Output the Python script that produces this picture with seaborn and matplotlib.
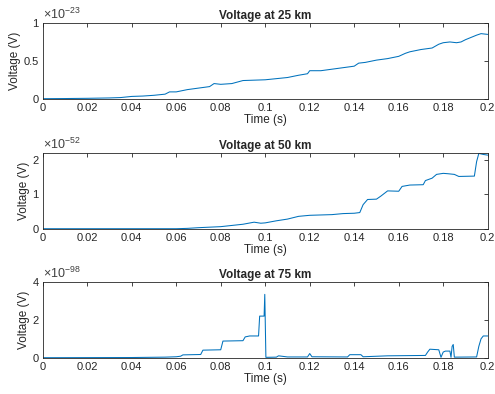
import numpy as np
import pandas as pd
import matplotlib
matplotlib.use("Agg")
import matplotlib.pyplot as plt
import seaborn as sns
from matplotlib.ticker import FuncFormatter

# ---- data (voltage in units of 10^exp V) ----
titles = ["Voltage at 25 km", "Voltage at 50 km", "Voltage at 75 km"]
exponents = [-23, -52, -98]
ylims = [1.0, 2.2, 4.0]
yticks = [[0, 0.5, 1], [0, 1, 2], [0, 2, 4]]
xticks = [0, 0.02, 0.04, 0.06, 0.08, 0.1, 0.12, 0.14, 0.16, 0.18, 0.2]

t1 = [0, 0.01, 0.02, 0.03, 0.035, 0.04, 0.045, 0.05, 0.055, 0.057, 0.06, 0.065, 0.07,
      0.075, 0.077, 0.08, 0.085, 0.09, 0.095, 0.1, 0.105, 0.11, 0.115, 0.119, 0.12,
      0.125, 0.13, 0.135, 0.14, 0.142, 0.145, 0.15, 0.155, 0.16, 0.163, 0.165, 0.17,
      0.175, 0.178, 0.18, 0.183, 0.186, 0.188, 0.19, 0.195, 0.197, 0.2]
v1 = [0, 0.002, 0.005, 0.01, 0.015, 0.03, 0.035, 0.045, 0.06, 0.09, 0.09, 0.12, 0.14,
      0.16, 0.2, 0.19, 0.2, 0.24, 0.245, 0.25, 0.265, 0.28, 0.31, 0.33, 0.37,
      0.37, 0.39, 0.41, 0.43, 0.47, 0.48, 0.51, 0.53, 0.56, 0.6, 0.62, 0.65,
      0.67, 0.72, 0.74, 0.75, 0.74, 0.75, 0.78, 0.84, 0.86, 0.85]

t2 = [0, 0.06, 0.065, 0.07, 0.08, 0.09, 0.095, 0.098, 0.1, 0.105, 0.11, 0.115, 0.12,
      0.13, 0.135, 0.14, 0.1425, 0.144, 0.146, 0.15, 0.152, 0.155, 0.16, 0.1615,
      0.165, 0.171, 0.172, 0.175, 0.177, 0.18, 0.182, 0.185, 0.187, 0.194, 0.195,
      0.196, 0.198, 0.2]
v2 = [0, 0, 0.01, 0.03, 0.06, 0.13, 0.19, 0.16, 0.17, 0.23, 0.28, 0.36, 0.39,
      0.41, 0.44, 0.45, 0.47, 0.7, 0.85, 0.86, 0.95, 1.1, 1.09, 1.23,
      1.27, 1.28, 1.4, 1.47, 1.58, 1.61, 1.6, 1.58, 1.52, 1.53, 1.95,
      2.19, 2.16, 2.14]

t3 = [0, 0.04, 0.055, 0.06, 0.062, 0.063, 0.071, 0.072, 0.08, 0.081, 0.09, 0.091,
      0.093, 0.097, 0.0975, 0.0995, 0.0998, 0.1003, 0.105, 0.106, 0.11, 0.119, 0.12,
      0.121, 0.137, 0.138, 0.143, 0.144, 0.155, 0.172, 0.173, 0.174, 0.178, 0.179,
      0.18, 0.181, 0.183, 0.1835, 0.184, 0.1845, 0.185, 0.195, 0.196, 0.197, 0.198, 0.2]
v3 = [0, 0.01, 0.03, 0.05, 0.08, 0.15, 0.17, 0.4, 0.42, 0.88, 0.9, 1.1,
      1.15, 1.15, 2.2, 2.2, 3.35, 0.02, 0.03, 0.1, 0.04, 0.04, 0.22,
      0.05, 0.04, 0.16, 0.16, 0.05, 0.1, 0.12, 0.3, 0.45, 0.42, 0.02,
      0.3, 0.35, 0.35, 0.02, 0.6, 0.7, 0.03, 0.04, 0.6, 1.0, 1.15, 1.15]

series = [(t1, v1), (t2, v2), (t3, v3)]

# ---- style ----
sns.set_theme(style="white")
plt.rcParams.update({
    "font.family": ["Liberation Sans", "DejaVu Sans"],
    "axes.edgecolor": "#262626",
    "axes.linewidth": 0.6,
    "xtick.color": "#262626",
    "ytick.color": "#262626",
    "xtick.direction": "in",
    "ytick.direction": "in",
    "xtick.top": True,
    "ytick.right": True,
    "xtick.major.size": 3,
    "ytick.major.size": 3,
    "xtick.major.width": 0.6,
    "ytick.major.width": 0.6,
    "xtick.labelsize": 8,
    "ytick.labelsize": 8,
    "axes.labelsize": 8.5,
    "axes.titlesize": 8.5,
    "text.color": "#262626",
    "axes.labelcolor": "#262626",
    "mathtext.fontset": "custom",
    "mathtext.rm": "Liberation Sans",
    "mathtext.it": "Liberation Sans",
})

fig = plt.figure(figsize=(4.95, 3.94), dpi=100)
left, width = 0.0863, 0.899
bottoms = [0.7495, 0.4195, 0.0921]
height = 0.192

fmt = FuncFormatter(lambda v, p: f"{v:g}")
for i, ((t, v), title) in enumerate(zip(series, titles)):
    ax = fig.add_axes([left, bottoms[i], width, height])
    df = pd.DataFrame({"Time (s)": t, "Voltage (V)": v})
    sns.lineplot(data=df, x="Time (s)", y="Voltage (V)", ax=ax,
                 color="#0072BD", linewidth=0.75, estimator=None, sort=False)
    ax.set_xlim(0, 0.2)
    ax.set_ylim(0, ylims[i])
    ax.set_xticks(xticks)
    ax.set_yticks(yticks[i])
    ax.xaxis.set_major_formatter(fmt)
    ax.yaxis.set_major_formatter(fmt)
    ax.set_title(title, fontweight="bold", pad=3)
    ax.set_xlabel("Time (s)", labelpad=1)
    ax.set_ylabel("Voltage (V)", labelpad=2)
    ax.tick_params(pad=3)
    ax.text(0.0, 1.015, r"$\times10^{%d}$" % exponents[i], transform=ax.transAxes,
            fontsize=9, color="#404040", ha="left", va="bottom")

fig.savefig("out.png", dpi=100)
